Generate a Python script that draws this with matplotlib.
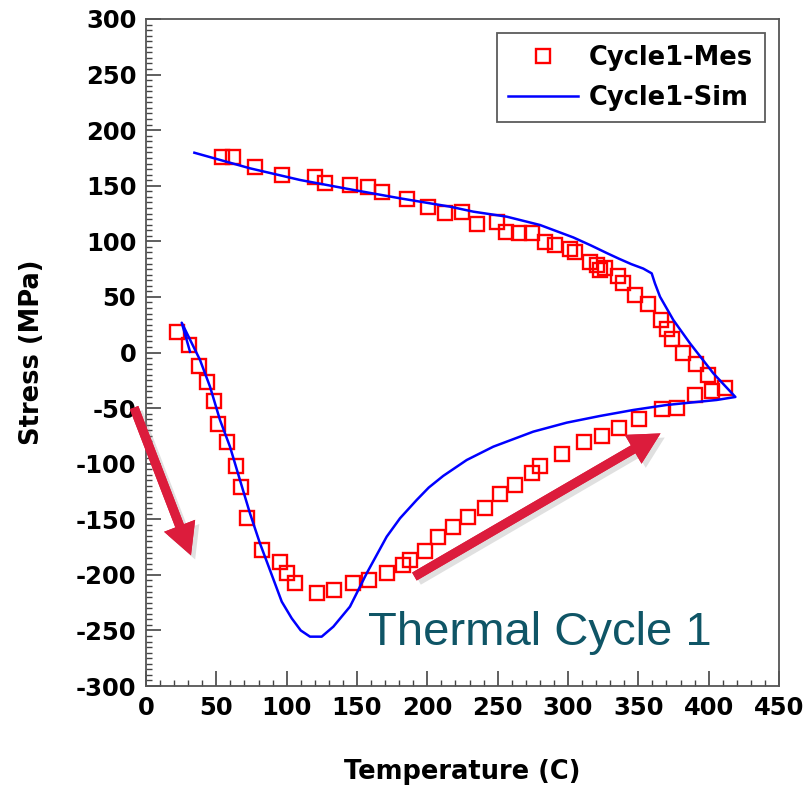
import numpy as np
import matplotlib
matplotlib.use('Agg')
import matplotlib.pyplot as plt
import matplotlib.patheffects as pe
from matplotlib.patches import FancyArrowPatch
from matplotlib.ticker import MultipleLocator

plt.rcParams['axes.unicode_minus'] = False

# measured points (temperature C, stress MPa)
mes_T = [21.8, 30.8, 37.5, 43.6, 48.3, 51.2, 57.8, 64.0, 67.8, 71.6, 82.5, 95.3, 100.0, 106.0,
         121.3, 133.6, 147.4, 158.5, 171.5, 182.9, 187.7, 198.3, 207.8, 218.4, 229.1, 241.0,
         251.6, 262.3, 274.2, 280.1, 295.5, 311.4, 324.0, 336.4, 350.7, 366.6, 377.7, 390.3,
         402.1, 411.6,
         399.7, 391.0, 382.0, 373.7, 370.1, 365.9, 357.1, 347.6, 339.3, 335.7, 326.3, 322.7,
         320.4, 315.6, 305.0, 301.4, 290.8, 283.6, 274.2, 265.4, 256.0, 249.3, 235.1, 224.4,
         212.6, 200.7, 185.3, 167.5, 158.0, 145.0, 127.2, 120.1, 96.5, 77.5, 62.1, 53.8]
mes_S = [18.2, 6.8, -11.8, -26.8, -43.6, -64.6, -80.8, -101.8, -121.3, -148.6, -177.7, -188.2, -198.6, -207.6,
         -216.0, -213.6, -207.6, -204.6, -198.6, -191.1, -186.6, -178.3, -166.2, -156.7, -148.2, -139.6,
         -127.3, -119.2, -108.1, -102.1, -91.6, -80.8, -74.8, -68.2, -60.1, -51.1, -50.2, -38.2,
         -34.3, -32.2,
         -20.2, -10.3, -0.7, 11.9, 20.9, 29.2, 43.6, 51.7, 62.2, 68.8, 75.7, 74.2,
         78.7, 81.7, 90.7, 92.8, 96.7, 99.7, 107.2, 107.2, 108.7, 117.7, 115.6, 126.7,
         125.2, 131.2, 137.8, 144.7, 149.2, 150.7, 152.8, 157.6, 159.7, 167.1, 175.6, 176.1]

# simulated curve
sim_T = [31.3, 25.4, 38.4, 45.5, 52.6, 59.7, 66.8, 73.9, 81.0, 88.1, 96.5, 103.6, 110.0,
         116.6, 124.9, 133.2, 145.0, 156.9, 171.1, 180.6, 192.4, 201.0, 211.3, 228.0, 246.9,
         275.3, 299.1, 322.7, 346.4, 370.2, 405.7, 419.0,
         403.3, 386.7, 374.9, 365.4, 361.8, 359.5, 353.5, 345.0, 336.0, 327.5, 316.0, 303.8,
         280.1, 256.4, 232.7, 216.1, 180.6, 145.0, 109.5, 73.9, 34.4]
sim_S = [0.7, 26.8, -6.7, -30.7, -60.7, -84.7, -114.7, -144.6, -171.6, -195.6, -224.1, -239.1, -250.0,
         -255.6, -255.6, -246.6, -228.6, -198.6, -165.7, -149.1, -132.7, -121.5, -111.0, -96.7, -84.7,
         -71.2, -63.1, -57.1, -51.7, -47.2, -42.7, -40.0,
         -18.7, 8.3, 29.2, 50.2, 62.2, 71.2, 75.5, 79.5, 84.5, 89.5, 96.5, 103.5,
         114.7, 122.2, 126.7, 131.2, 138.7, 146.8, 155.2, 165.7, 179.7]

# annotation arrows (tail, head)
arrow_down = [(-9.2, -47.2), (32.7, -184.8)]
arrow_up = [(189.1, -202.8), (367.5, -71.5)]

fig = plt.figure(figsize=(8.07, 7.85), dpi=100)
ax = fig.add_axes([0.1809, 0.1261, 0.7844, 0.8497])

ax.plot(mes_T, mes_S, ls='none', marker='s', ms=9.5, mfc='none', mec='#ff0000', mew=1.7,
        label='Cycle1-Mes')
ax.plot(sim_T, sim_S, color='#0000ff', lw=1.8, label='Cycle1-Sim')

ax.set_xlim(0, 450)
ax.set_ylim(-300, 300)
ax.xaxis.set_major_locator(MultipleLocator(50))
ax.xaxis.set_minor_locator(MultipleLocator(10))
ax.yaxis.set_major_locator(MultipleLocator(50))
ax.yaxis.set_minor_locator(MultipleLocator(5))
ax.tick_params(which='both', direction='in', top=False, right=False, color='#444444')
ax.tick_params(which='major', length=10.5, width=1.2, labelsize=17.5, pad=7)
ax.tick_params(which='minor', length=4.5, width=1.0)
for lab in ax.get_xticklabels() + ax.get_yticklabels():
    lab.set_fontweight('bold')
for sp in ax.spines.values():
    sp.set_color('#555555')
    sp.set_linewidth(1.3)

ax.set_xlabel('Temperature (C)', fontsize=18.5, fontweight='bold', labelpad=28)
ax.set_ylabel('Stress (MPa)', fontsize=18.5, fontweight='bold', labelpad=22)

leg = ax.legend(loc='upper right', frameon=True, fancybox=False,
                handlelength=2.7, handletextpad=0.45, labelspacing=0.55,
                borderpad=0.45, borderaxespad=0.55, edgecolor='#333333',
                prop={'weight': 'bold', 'size': 18.5})
leg.get_frame().set_linewidth(1.3)

shadow = [pe.withSimplePatchShadow(offset=(3, -3), shadow_rgbFace='#999999', alpha=0.3),
          pe.Normal()]
for tail, head in (arrow_down, arrow_up):
    arr = FancyArrowPatch(tail, head, arrowstyle='simple,head_length=1.9,head_width=2.0,tail_width=0.55',
                          mutation_scale=12, color='#dc1c3c', lw=0, clip_on=False, zorder=5)
    arr.set_path_effects(shadow)
    ax.add_patch(arr)

ax.text(157.8, -263.1, 'Thermal Cycle 1', fontsize=34, color='#0f5566',
        family='Liberation Sans', ha='left', va='baseline')

fig.savefig('out.png', dpi=100)
